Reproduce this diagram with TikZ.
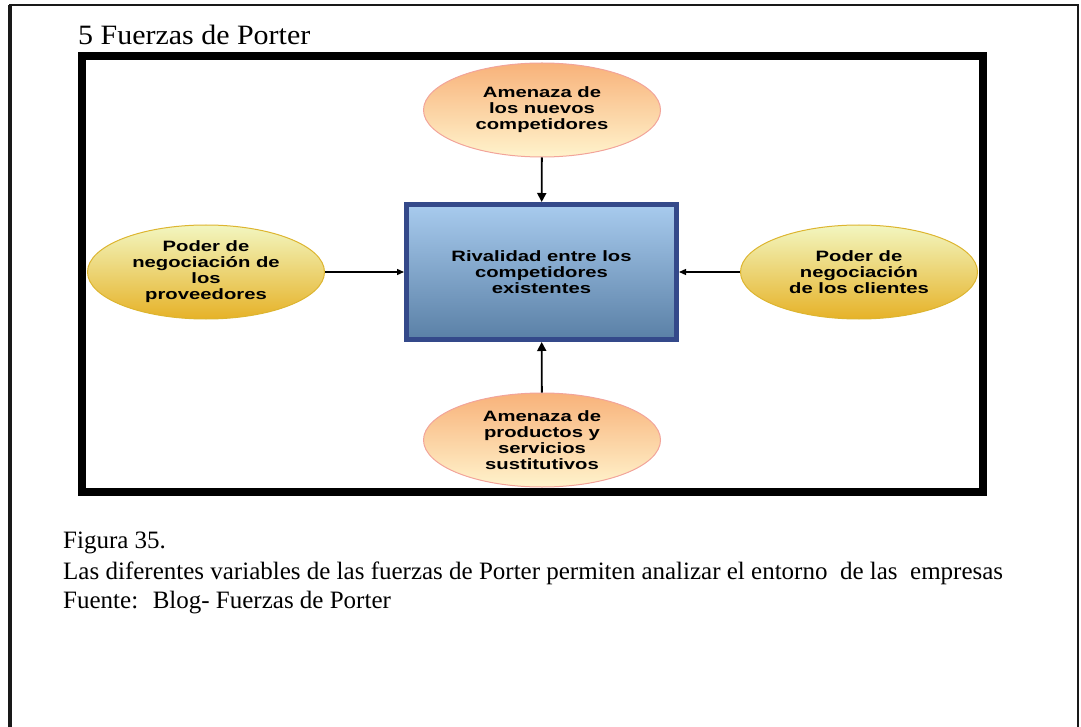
\documentclass[tikz,border=0pt]{standalone}
\usepackage{fontspec}
\setmainfont{Liberation Serif}
\newfontfamily\diagfont[FakeStretch=1.35]{Liberation Sans}
\newfontfamily\titlefont[FakeStretch=1.07]{Liberation Serif}
\usetikzlibrary{arrows.meta,shapes.geometric}

\definecolor{boxline}{HTML}{34498A}
\definecolor{boxtop}{HTML}{A8CBEE}
\definecolor{boxbot}{HTML}{5A80A6}
\definecolor{orangetop}{HTML}{F8B27A}
\definecolor{orangebot}{HTML}{FFF3CC}
\definecolor{orangeline}{HTML}{F2A49A}
\definecolor{yellowtop}{HTML}{F2F6C0}
\definecolor{yellowbot}{HTML}{E6B228}
\definecolor{yellowline}{HTML}{DDB530}

\begin{document}
\begin{tikzpicture}[x=1pt,y=-1pt,
    difftext/.style={align=center,font=\diagfont\bfseries\fontsize{15}{16}\selectfont},
    oval/.style={ellipse,difftext,inner sep=0pt,minimum width=237pt,minimum height=94pt,line width=1pt},
    threat/.style={oval,draw=orangeline,top color=orangetop,bottom color=orangebot},
    power/.style={oval,draw=yellowline,top color=yellowtop,bottom color=yellowbot},
    arr/.style={-{Triangle[length=9pt,width=9pt]},line width=1.8pt},
    harr/.style={-{Triangle[length=7pt,width=6pt]},line width=1.3pt}]

    \useasboundingbox (0,0) rectangle (1081,727);

    % page frame
    \draw[line width=2pt,black!90] (10,728) -- (10,5.5) -- (1078,5.5) -- (1078,728);
    \draw[line width=3.5pt,black!90] (10,728) -- (10,5);

    \node[anchor=base west,inner sep=0pt,font=\titlefont\fontsize{28}{30}\selectfont] (title) at (78,45) {5 Fuerzas de Porter};

    % diagram
    \node[draw=boxline,line width=5pt,top color=boxtop,bottom color=boxbot,
        minimum width=270pt,minimum height=135pt,difftext] (R) at (541.5,272) {Rivalidad entre los\\competidores\\existentes};

    \node[threat] (A1) at (542,110) {Amenaza de\\los nuevos\\competidores};
    \node[threat] (A2) at (542,440) {Amenaza de\\productos y\\servicios\\sustitutivos};
    \node[power] (P1) at (206,272) {Poder de\\negociación de\\los\\proveedores};
    \node[power] (P2) at (859,272) {Poder de\\negociación\\de los clientes};

    \draw[arr] (A1) -- (R);
    \draw[arr] (A2) -- (R);
    \draw[harr] (P1) -- (R);
    \draw[harr] (P2) -- (R);

    \draw[line width=8pt] (82,56) rectangle (983,492);

    % caption
    \node[anchor=base west,inner sep=0pt,font=\fontsize{25}{29}\selectfont] (fig) at (63,548) {Figura 35.};
    \node[anchor=base west,inner sep=0pt,font=\fontsize{25}{29}\selectfont] (desc) at (63,579) {Las diferentes variables de las fuerzas de Porter permiten analizar el entorno~ de las~ empresas};
    \node[anchor=base west,inner sep=0pt,font=\fontsize{25}{29}\selectfont] (src) at (63,608) {Fuente:~ Blog- Fuerzas de Porter};
\end{tikzpicture}
\end{document}
